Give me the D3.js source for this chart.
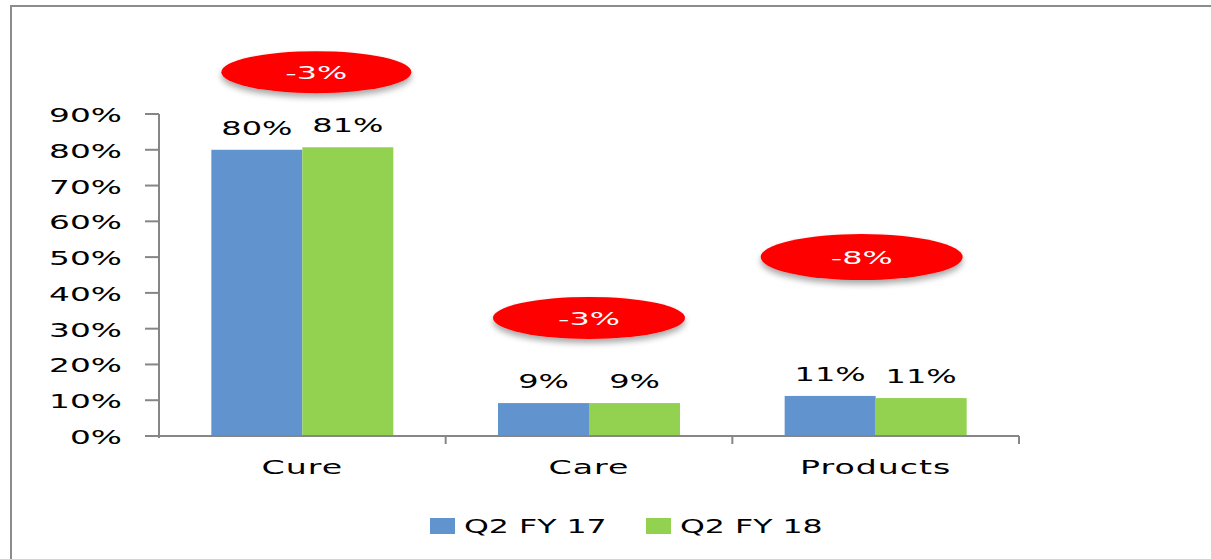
<!DOCTYPE html>
<html>
<head>
<meta charset="utf-8">
<script src="https://cdn.jsdelivr.net/npm/d3@7"></script>
<style>
  body { margin: 0; background: #fff; }
  text { font-family: "DejaVu Sans", Verdana, sans-serif; }
</style>
</head>
<body>
<svg id="chart" width="1211" height="559"></svg>
<script>
// data
const categories = ["Cure", "Care", "Products"];
const seriesNames = ["Q2 FY 17", "Q2 FY 18"];
const fy17 = [80, 9.2, 11.2];
const fy18 = [80.7, 9.2, 10.6];
const changes = ["-3%", "-3%", "-8%"];
const yTicks = [0, 10, 20, 30, 40, 50, 60, 70, 80, 90];

const colors = {"Q2 FY 17": "#6194ce", "Q2 FY 18": "#93d151"};
const stretch = 1.6; // text in the picture is widened

const svg = d3.select("svg#chart");

// frame
svg.append("path")
    .attr("d", "M11,559 L11,6 L1211,6")
    .attr("fill", "none")
    .attr("stroke", "#8c8c8c")
    .attr("stroke-width", 2);

const plot = {left: 159, right: 1019, top: 114, bottom: 436};

const x = d3.scaleBand().domain(categories).range([plot.left, plot.right]);
const xs = d3.scaleBand().domain(seriesNames).range([0, x.bandwidth()]).paddingOuter(0.575);
const y = d3.scaleLinear().domain([0, 90]).range([plot.bottom, plot.top]);

const rows = categories.map((c, i) => ({
    cat: c,
    vals: [{s: seriesNames[0], v: fy17[i]}, {s: seriesNames[1], v: fy18[i]}]
}));

function wideText(sel, size, k) {
    sel.style("font-size", size + "px")
        .attr("transform", function () {
            const t = d3.select(this);
            return `translate(${t.attr("data-x")},${t.attr("data-y")}) scale(${k || stretch},1)`;
        });
}

// y axis
const yAxis = svg.append("g");
yAxis.append("line")
    .attr("x1", plot.left).attr("x2", plot.left)
    .attr("y1", plot.top).attr("y2", plot.bottom + 2)
    .attr("stroke", "#868686").attr("stroke-width", 2);
yAxis.selectAll("line.tick")
    .data(yTicks)
    .join("line")
    .attr("class", "tick")
    .attr("x1", plot.left - 14).attr("x2", plot.left)
    .attr("y1", d => y(d)).attr("y2", d => y(d))
    .attr("stroke", "#868686").attr("stroke-width", 2);
yAxis.selectAll("text")
    .data(yTicks)
    .join("text")
    .attr("data-x", 122)
    .attr("data-y", d => y(d) + 8)
    .attr("text-anchor", "end")
    .attr("fill", "#000")
    .text(d => d + "%")
    .call(wideText, 20, 1.64);

// bars
const groups = svg.selectAll("g.cat")
    .data(rows)
    .join("g")
    .attr("class", "cat")
    .attr("transform", d => `translate(${x(d.cat)},0)`);

groups.selectAll("rect")
    .data(d => d.vals)
    .join("rect")
    .attr("x", d => xs(d.s))
    .attr("width", xs.bandwidth())
    .attr("y", d => y(d.v))
    .attr("height", d => y(0) - y(d.v))
    .attr("fill", d => colors[d.s]);

groups.selectAll("text.val")
    .data(d => d.vals)
    .join("text")
    .attr("class", "val")
    .attr("data-x", d => xs(d.s) + xs.bandwidth() / 2)
    .attr("data-y", d => y(d.v) - 15)
    .attr("text-anchor", "middle")
    .attr("fill", "#000")
    .text(d => Math.round(d.v) + "%")
    .call(wideText, 20, 1.6);

// x axis
svg.append("line")
    .attr("x1", plot.left).attr("x2", plot.right)
    .attr("y1", plot.bottom).attr("y2", plot.bottom)
    .attr("stroke", "#868686").attr("stroke-width", 2);
svg.selectAll("line.xtick")
    .data(categories.slice(1).map(c => x(c)).concat([plot.right]))
    .join("line")
    .attr("class", "xtick")
    .attr("x1", d => d).attr("x2", d => d)
    .attr("y1", plot.bottom).attr("y2", plot.bottom + 8)
    .attr("stroke", "#868686").attr("stroke-width", 2);
svg.selectAll("text.cat")
    .data(categories)
    .join("text")
    .attr("class", "cat")
    .attr("data-x", d => x(d) + x.bandwidth() / 2)
    .attr("data-y", 474)
    .attr("text-anchor", "middle")
    .attr("fill", "#000")
    .style("letter-spacing", "0.6px")
    .text(d => d)
    .call(wideText, 20, 1.66);

// red change bubbles
const defs = svg.append("defs");
const f = defs.append("filter").attr("id", "soft")
    .attr("x", "-20%").attr("y", "-40%").attr("width", "140%").attr("height", "190%");
f.append("feGaussianBlur").attr("in", "SourceAlpha").attr("stdDeviation", 3).attr("result", "b");
f.append("feOffset").attr("in", "b").attr("dy", 4).attr("result", "o");
f.append("feComponentTransfer").attr("in", "o").attr("result", "s")
    .append("feFuncA").attr("type", "linear").attr("slope", 0.35);
const fm = f.append("feMerge");
fm.append("feMergeNode").attr("in", "s");
fm.append("feMergeNode").attr("in", "SourceGraphic");

// bubble placement: offset from category centre and value height
const bubbleLayout = [
    {dx: 14, at: 101.7, rx: 95, ry: 21},
    {dx: 0, at: 33, rx: 96, ry: 21},
    {dx: -14, at: 50, rx: 101, ry: 23}
];
const bubbles = svg.selectAll("g.bubble")
    .data(categories)
    .join("g")
    .attr("class", "bubble")
    .attr("transform", (d, i) =>
        `translate(${x(d) + x.bandwidth() / 2 + bubbleLayout[i].dx},${y(bubbleLayout[i].at)})`);
bubbles.append("ellipse")
    .attr("rx", (d, i) => bubbleLayout[i].rx)
    .attr("ry", (d, i) => bubbleLayout[i].ry)
    .attr("fill", "#ff0000")
    .attr("filter", "url(#soft)");
bubbles.append("text")
    .attr("data-x", 0)
    .attr("data-y", 7)
    .attr("text-anchor", "middle")
    .attr("fill", "#fff")
    .text((d, i) => changes[i])
    .call(wideText, 18.5, 1.72);

// legend
const legend = svg.append("g");
const legendX = [430, 646];
seriesNames.forEach((s, i) => {
    legend.append("rect")
        .attr("x", legendX[i]).attr("y", 518)
        .attr("width", 25).attr("height", 16)
        .attr("fill", colors[s]);
    legend.append("text")
        .attr("data-x", legendX[i] + 34)
        .attr("data-y", 533)
        .attr("fill", "#000")
        .text(s)
        .call(wideText, 20, 1.58);
});
</script>
</body>
</html>
